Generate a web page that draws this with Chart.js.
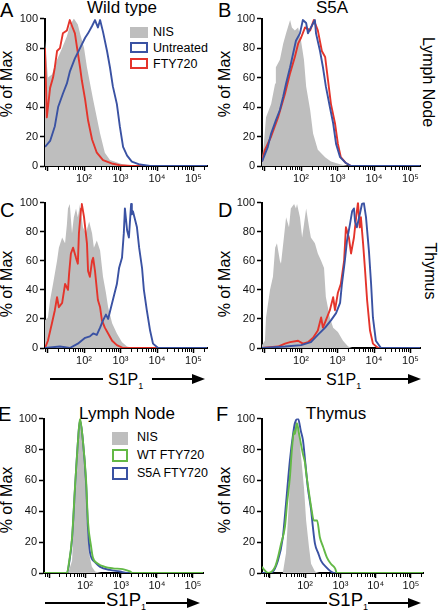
<!DOCTYPE html>
<html>
<head>
<meta charset="utf-8">
<script src="https://cdn.jsdelivr.net/npm/chart.js"></script>
<style>
  body { margin: 0; background: #fff; width: 438px; height: 613px; position: relative; overflow: hidden;
         font-family: "Liberation Sans", Arial, Helvetica, sans-serif; color: #000; }
  canvas { position: absolute; }
  .t { position: absolute; white-space: nowrap; line-height: 1; }
  .letter { font-size: 20px; }
  .title { font-size: 17px; transform: translateX(-50%); }
  .ytitle { font-size: 16px; transform: translate(-50%, -50%) rotate(-90deg); }
  .side { font-size: 16px; transform: translate(-50%, -50%) rotate(90deg); }
  .leg { font-size: 12.5px; }
  .box { position: absolute; box-sizing: border-box; }
  .hl { position: absolute; height: 2px; background: #000; }
  .head { position: absolute; width: 0; height: 0; border-top: 5px solid transparent;
          border-bottom: 5px solid transparent; border-left: 13px solid #000; }
  .s1p sub { font-size: 9px; vertical-align: -4px; line-height: 0; }
</style>
</head>
<body>

<div class="t letter" style="left:0;top:0">A</div>
<div class="t letter" style="left:218px;top:0">B</div>
<div class="t letter" style="left:0;top:200px">C</div>
<div class="t letter" style="left:218px;top:200px">D</div>
<div class="t letter" style="left:-2px;top:404px">E</div>
<div class="t letter" style="left:216px;top:404px">F</div>

<div class="t title" style="left:122px;top:-1px">Wild type</div>
<div class="t title" style="left:332px;top:-1px">S5A</div>
<div class="t title" style="left:127px;top:405px">Lymph Node</div>
<div class="t title" style="left:336px;top:405px">Thymus</div>

<div class="t side" style="left:428px;top:82px">Lymph Node</div>
<div class="t side" style="left:430px;top:271px">Thymus</div>

<div class="t ytitle" style="left:7px;top:84px">% of Max</div>
<div class="t ytitle" style="left:225px;top:84px">% of Max</div>
<div class="t ytitle" style="left:7px;top:284px">% of Max</div>
<div class="t ytitle" style="left:225px;top:284px">% of Max</div>
<div class="t ytitle" style="left:7px;top:500px">% of Max</div>
<div class="t ytitle" style="left:225px;top:500px">% of Max</div>

<!-- legend A -->
<div class="box" style="left:130px;top:27px;width:18px;height:11px;background:#bebebe"></div>
<div class="box" style="left:130px;top:42px;width:18px;height:11px;border:2px solid #3a52a3"></div>
<div class="box" style="left:130px;top:58px;width:18px;height:11px;border:2px solid #e4342b"></div>
<div class="t leg" style="left:153px;top:26px">NIS</div>
<div class="t leg" style="left:153px;top:42px">Untreated</div>
<div class="t leg" style="left:153px;top:58px">FTY720</div>

<!-- legend E -->
<div class="box" style="left:112px;top:432px;width:16px;height:13px;background:#bebebe"></div>
<div class="box" style="left:112px;top:449px;width:16px;height:13px;border:2px solid #63b946"></div>
<div class="box" style="left:112px;top:467px;width:16px;height:13px;border:2px solid #3a52a3"></div>
<div class="t leg" style="left:137px;top:431px">NIS</div>
<div class="t leg" style="left:137px;top:449px">WT FTY720</div>
<div class="t leg" style="left:137px;top:467px">S5A FTY720</div>

<!-- S1P1 arrows -->
<div class="hl" style="left:50px;width:53px;top:378px"></div>
<div class="hl" style="left:152px;width:42px;top:378px"></div>
<div class="head" style="left:192px;top:374px"></div>
<div class="t s1p" style="left:108px;top:372px;font-size:16px">S1P<sub>1</sub></div>

<div class="hl" style="left:265px;width:56px;top:378px"></div>
<div class="hl" style="left:370px;width:40px;top:378px"></div>
<div class="head" style="left:408px;top:374px"></div>
<div class="t s1p" style="left:326px;top:372px;font-size:16px">S1P<sub>1</sub></div>

<div class="hl" style="left:45px;width:60px;top:602px"></div>
<div class="hl" style="left:146px;width:42px;top:602px"></div>
<div class="head" style="left:187px;top:598px"></div>
<div class="t s1p" style="left:106px;top:591px;font-size:18.5px">S1P<sub>1</sub></div>

<div class="hl" style="left:266px;width:61px;top:602px"></div>
<div class="hl" style="left:368px;width:41px;top:602px"></div>
<div class="head" style="left:408px;top:598px"></div>
<div class="t s1p" style="left:328px;top:591px;font-size:18.5px">S1P<sub>1</sub></div>

<canvas id="pA"></canvas>
<canvas id="pB"></canvas>
<canvas id="pC"></canvas>
<canvas id="pD"></canvas>
<canvas id="pE"></canvas>
<canvas id="pF"></canvas>

<script>
// x values are log10(fluorescence), y values are % of max
const majorTicks = [2, 3, 4, 5];
const tickLabels = ['10²', '10³', '10⁴', '10⁵'];
const yTicks = [0, 20, 40, 60, 80, 100];

// A - wild type, lymph node
const grayA_x = [0.93, 1.01, 1.12, 1.26, 1.40, 1.53, 1.61, 1.72, 1.83, 1.89, 2.00, 2.08, 2.25, 2.44, 2.57, 2.71, 3.07, 3.40];
const grayA_y = [85, 60, 62, 72, 80, 88, 95, 100, 96, 90, 80, 67, 45, 22, 9, 4, 1, 0];
const redA_x = [0.93, 0.98, 1.07, 1.15, 1.20, 1.26, 1.34, 1.42, 1.53, 1.61, 1.67, 1.75, 1.81, 1.89, 1.94, 2.03, 2.11, 2.22, 2.35, 2.52, 2.79, 2.98, 3.30, 5.37];
const redA_y = [80, 33, 53, 60, 67, 78, 80, 90, 92, 99, 95, 90, 80, 67, 58, 45, 31, 18, 9, 4, 1.5, 0.5, 0, 0];
const blueA_x = [0.93, 1.07, 1.20, 1.29, 1.42, 1.53, 1.61, 1.75, 1.89, 2.03, 2.11, 2.22, 2.30, 2.38, 2.44, 2.52, 2.63, 2.71, 2.79, 2.90, 2.98, 3.07, 3.18, 3.31, 3.53, 3.81, 5.37];
const blueA_y = [13, 17, 27, 40, 49, 56, 64, 73, 80, 87, 90, 95, 99, 94, 99, 91, 78, 67, 54, 42, 27, 13, 7, 3, 1, 0, 0];

// B - S5A, lymph node
const grayB_x = [0.93, 0.98, 1.04, 1.18, 1.29, 1.31, 1.42, 1.51, 1.59, 1.70, 1.75, 1.83, 1.92, 2.00, 2.08, 2.14, 2.25, 2.33, 2.46, 2.66, 2.82, 3.09, 3.30];
const grayB_y = [5, 15, 33, 42, 56, 67, 72, 83, 90, 99, 94, 92, 94, 85, 72, 54, 38, 22, 11, 6, 3, 1, 0];
const redB_x = [0.93, 1.01, 1.18, 1.37, 1.56, 1.70, 1.83, 1.92, 2.00, 2.11, 2.25, 2.35, 2.46, 2.57, 2.66, 2.74, 2.82, 2.93, 3.01, 3.09, 3.23, 3.37, 5.26];
const redB_y = [3, 11, 20, 33, 49, 63, 74, 83, 87, 94, 92, 99, 92, 78, 74, 58, 42, 29, 15, 6, 2, 0, 0];
const blueB_x = [0.93, 1.09, 1.18, 1.31, 1.42, 1.51, 1.59, 1.70, 1.78, 1.86, 1.97, 2.05, 2.14, 2.19, 2.27, 2.38, 2.41, 2.52, 2.60, 2.68, 2.79, 2.88, 2.96, 3.07, 3.23, 3.37, 5.26];
const blueB_y = [3, 13, 22, 31, 38, 47, 56, 67, 76, 85, 90, 99, 97, 90, 94, 99, 90, 78, 67, 54, 40, 29, 15, 6, 2, 0, 0];

// C - wild type, thymus
const grayC_x = [0.93, 1.01, 1.07, 1.15, 1.26, 1.31, 1.40, 1.48, 1.53, 1.56, 1.61, 1.67, 1.72, 1.78, 1.83, 1.89, 1.97, 2.05, 2.14, 2.22, 2.27, 2.35, 2.44, 2.52, 2.60, 2.66, 2.77, 2.90, 3.04, 3.18, 3.35];
const grayC_y = [19, 21, 33, 44, 60, 69, 76, 72, 85, 96, 99, 79, 90, 96, 90, 99, 83, 79, 87, 79, 69, 74, 67, 49, 38, 28, 17, 10, 4, 1, 0];
const redC_x = [0.93, 1.01, 1.12, 1.20, 1.26, 1.31, 1.40, 1.48, 1.56, 1.59, 1.64, 1.70, 1.78, 1.83, 1.86, 1.92, 1.94, 2.00, 2.08, 2.11, 2.16, 2.22, 2.25, 2.30, 2.38, 2.44, 2.49, 2.57, 2.66, 2.77, 2.90, 3.07, 5.37];
const redC_y = [0, 5, 17, 26, 35, 28, 31, 44, 40, 51, 65, 69, 62, 58, 79, 96, 99, 90, 72, 53, 49, 60, 62, 53, 33, 28, 19, 14, 10, 5, 2, 0, 0];
const blueC_x = [0.93, 1.34, 1.61, 1.83, 2.03, 2.16, 2.25, 2.35, 2.44, 2.52, 2.60, 2.66, 2.74, 2.79, 2.90, 2.96, 3.04, 3.09, 3.12, 3.18, 3.23, 3.29, 3.31, 3.34, 3.45, 3.51, 3.59, 3.64, 3.72, 3.81, 3.89, 4.03, 5.37];
const blueC_y = [0, 1, 0, 3, 7, 8, 10, 9, 14, 19, 23, 20, 28, 33, 44, 55, 62, 79, 96, 81, 76, 99, 92, 94, 83, 69, 55, 40, 26, 12, 3, 0, 0];

// D - S5A, thymus
const grayD_x = [0.93, 1.01, 1.04, 1.15, 1.23, 1.29, 1.34, 1.42, 1.45, 1.53, 1.59, 1.67, 1.72, 1.81, 1.86, 1.89, 1.97, 2.03, 2.08, 2.14, 2.22, 2.27, 2.38, 2.46, 2.55, 2.63, 2.68, 2.79, 2.88, 3.01, 3.15, 3.29, 3.40];
const grayD_y = [2, 5, 21, 40, 49, 69, 72, 60, 58, 76, 90, 83, 96, 99, 96, 99, 90, 76, 85, 96, 83, 76, 72, 65, 60, 55, 35, 21, 14, 11, 5, 1, 0];
const redD_x = [0.93, 1.37, 1.56, 1.70, 1.92, 2.05, 2.19, 2.33, 2.46, 2.55, 2.60, 2.68, 2.79, 2.88, 2.93, 3.01, 3.09, 3.18, 3.23, 3.31, 3.37, 3.45, 3.51, 3.56, 3.61, 3.64, 3.70, 3.75, 3.81, 3.89, 3.97, 4.11, 5.26];
const redD_y = [0, 1, 3, 4, 5, 3, 4, 7, 12, 21, 14, 19, 26, 35, 26, 38, 44, 60, 83, 76, 65, 76, 90, 100, 83, 90, 72, 55, 33, 12, 3, 0, 0];
const blueD_x = [0.93, 1.56, 2.00, 2.27, 2.46, 2.66, 2.82, 2.96, 3.07, 3.12, 3.20, 3.26, 3.34, 3.40, 3.45, 3.48, 3.53, 3.61, 3.67, 3.72, 3.78, 3.86, 3.92, 3.97, 4.05, 4.19, 5.26];
const blueD_y = [0, 1, 2, 4, 9, 14, 19, 24, 31, 44, 60, 74, 85, 94, 96, 87, 83, 92, 99, 100, 90, 67, 44, 21, 5, 0, 0];

// E - lymph node, FTY720
const grayE_x = [1.45, 1.53, 1.64, 1.69, 1.78, 1.83, 1.89, 1.94, 2.00, 2.05, 2.11, 2.19, 2.28, 2.45];
const grayE_y = [0, 0, 8, 34, 66, 88, 99, 92, 66, 34, 13, 4, 1, 0];
const greenE_x = [0.86, 1.50, 1.55, 1.64, 1.72, 1.80, 1.86, 1.94, 2.03, 2.08, 2.17, 2.22, 2.36, 2.55, 2.78, 3.05, 3.25, 3.33, 5.28];
const greenE_y = [0, 0, 6, 23, 55, 84, 100, 86, 60, 34, 17, 10, 6, 4, 3, 2.5, 1, 0, 0];
const blueE_x = [0.86, 1.50, 1.55, 1.64, 1.72, 1.80, 1.86, 1.94, 2.03, 2.08, 2.14, 2.28, 2.42, 2.69, 2.97, 3.17, 5.28];
const blueE_y = [0, 0, 5, 22, 54, 84, 99, 86, 58, 30, 13, 7, 4, 2, 1, 0, 0];

// F - thymus, FTY720
const grayF_x = [1.30, 1.37, 1.46, 1.54, 1.60, 1.69, 1.74, 1.83, 1.88, 1.97, 2.03, 2.11, 2.17, 2.28, 2.40];
const grayF_y = [0, 0, 13, 45, 77, 94, 100, 92, 77, 55, 34, 17, 6, 1, 0];
const greenF_x = [0.78, 0.81, 0.95, 1.15, 1.23, 1.32, 1.43, 1.49, 1.57, 1.63, 1.69, 1.71, 1.77, 1.83, 1.88, 1.94, 2.00, 2.03, 2.11, 2.17, 2.25, 2.34, 2.42, 2.51, 2.62, 2.73, 2.85, 2.90, 5.34];
const greenF_y = [4, 3, 0, 4, 10, 19, 30, 45, 62, 81, 92, 90, 97, 90, 84, 77, 71, 65, 52, 43, 34, 34, 23, 17, 10, 6, 3, 0, 0];
const blueF_x = [0.78, 1.03, 1.23, 1.37, 1.46, 1.57, 1.66, 1.71, 1.80, 1.88, 1.94, 2.00, 2.08, 2.17, 2.22, 2.28, 2.37, 2.45, 2.59, 2.73, 2.82, 5.34];
const blueF_y = [0, 0, 8, 23, 45, 73, 90, 97, 100, 92, 86, 73, 55, 41, 30, 19, 13, 8, 4, 1, 0, 0];

const FONT = '"Liberation Sans", Arial, Helvetica, sans-serif';
const GRAY = '#bebebe', BLUE = '#3a52a3', RED = '#e4342b', GREEN = '#63b946';
const Y_AXIS_W = 28, X_AXIS_H = 24, PAD_TOP = 8, PAD_RIGHT = 6;

function pts(xs, ys) {
    return xs.map((x, i) => ({ x: x, y: ys[i] }));
}

function isMajor(v) {
    return Math.abs(v - Math.round(v)) < 1e-6;
}

// decade ticks plus log minor ticks in between
function xTickValues(min, max) {
    const vals = [];
    for (let n = 0; n <= 5; n++) {
        for (let k = 1; k <= 9; k++) {
            const v = n + Math.log10(k);
            if (v >= min && v <= max) vals.push(v);
        }
    }
    return vals;
}

function fillSet(xs, ys) {
    return { data: pts(xs, ys), borderWidth: 0, backgroundColor: GRAY, fill: 'origin', order: 3 };
}

function lineSet(xs, ys, color, order, smooth) {
    return {
        data: pts(xs, ys), borderColor: color, borderWidth: 1.9, fill: false, order: order,
        cubicInterpolationMode: smooth ? 'monotone' : 'default'
    };
}

function makePanel(id, area, xMin, xMax, datasets) {
    const [l, t, r, b] = area;
    const canvas = document.getElementById(id);
    const w = (r - l) + Y_AXIS_W + PAD_RIGHT;
    const h = (b - t) + PAD_TOP + X_AXIS_H;
    canvas.width = w;
    canvas.height = h;
    canvas.style.left = (l - Y_AXIS_W) + 'px';
    canvas.style.top = (t - PAD_TOP) + 'px';

    const tickFont = { family: FONT, size: 11 };

    new Chart(canvas, {
        type: 'line',
        data: { datasets: datasets },
        options: {
            responsive: false,
            animation: false,
            events: [],
            devicePixelRatio: 1,
            layout: { padding: { top: PAD_TOP, right: PAD_RIGHT, left: 0, bottom: 0 } },
            plugins: { legend: { display: false }, tooltip: { enabled: false } },
            elements: { point: { radius: 0 }, line: { tension: 0, borderJoinStyle: 'round' } },
            scales: {
                x: {
                    type: 'linear', min: xMin, max: xMax,
                    afterFit: (s) => { s.height = X_AXIS_H; },
                    afterBuildTicks: (s) => { s.ticks = xTickValues(xMin, xMax).map(v => ({ value: v })); },
                    ticks: {
                        autoSkip: false, maxRotation: 0, minRotation: 0, padding: 1,
                        color: '#111', font: tickFont,
                        callback: (v) => {
                            const i = majorTicks.indexOf(Math.round(v));
                            return isMajor(v) && i >= 0 ? tickLabels[i] : '';
                        }
                    },
                    grid: {
                        drawOnChartArea: false, tickLength: 5, tickColor: '#000',
                        tickWidth: (ctx) => isMajor(ctx.tick.value) ? 1.5 : 1,
                        tickBorderDash: (ctx) => isMajor(ctx.tick.value) ? [] : [3, 10]
                    },
                    border: { color: '#000', width: 2 }
                },
                y: {
                    min: 0, max: 100,
                    afterFit: (s) => { s.width = Y_AXIS_W; },
                    ticks: {
                        stepSize: 10, padding: 2, color: '#111', font: tickFont,
                        callback: (v) => yTicks.includes(v) ? String(v) : ''
                    },
                    grid: {
                        drawOnChartArea: false, tickLength: 5, tickColor: '#000',
                        tickWidth: (ctx) => yTicks.includes(ctx.tick.value) ? 1.5 : 1,
                        tickBorderDash: (ctx) => yTicks.includes(ctx.tick.value) ? [] : [0, 2, 3, 10]
                    },
                    border: { color: '#000', width: 2 }
                }
            }
        }
    });
}

makePanel('pA', [45, 18, 207, 166], 0.93, 5.37, [
    fillSet(grayA_x, grayA_y), lineSet(redA_x, redA_y, RED, 2), lineSet(blueA_x, blueA_y, BLUE, 1)
]);
makePanel('pB', [262, 18, 420, 166], 0.93, 5.26, [
    fillSet(grayB_x, grayB_y), lineSet(redB_x, redB_y, RED, 2), lineSet(blueB_x, blueB_y, BLUE, 1)
]);
makePanel('pC', [45, 202, 207, 348], 0.93, 5.37, [
    fillSet(grayC_x, grayC_y), lineSet(redC_x, redC_y, RED, 2), lineSet(blueC_x, blueC_y, BLUE, 1)
]);
makePanel('pD', [262, 202, 420, 348], 0.93, 5.26, [
    fillSet(grayD_x, grayD_y), lineSet(redD_x, redD_y, RED, 2), lineSet(blueD_x, blueD_y, BLUE, 1)
]);
makePanel('pE', [44, 418, 203, 573], 0.86, 5.28, [
    fillSet(grayE_x, grayE_y), lineSet(blueE_x, blueE_y, BLUE, 2, true), lineSet(greenE_x, greenE_y, GREEN, 1, true)
]);
makePanel('pF', [262, 418, 423, 573], 0.78, 5.34, [
    fillSet(grayF_x, grayF_y), lineSet(blueF_x, blueF_y, BLUE, 2, true), lineSet(greenF_x, greenF_y, GREEN, 1, true)
]);
</script>
</body>
</html>
